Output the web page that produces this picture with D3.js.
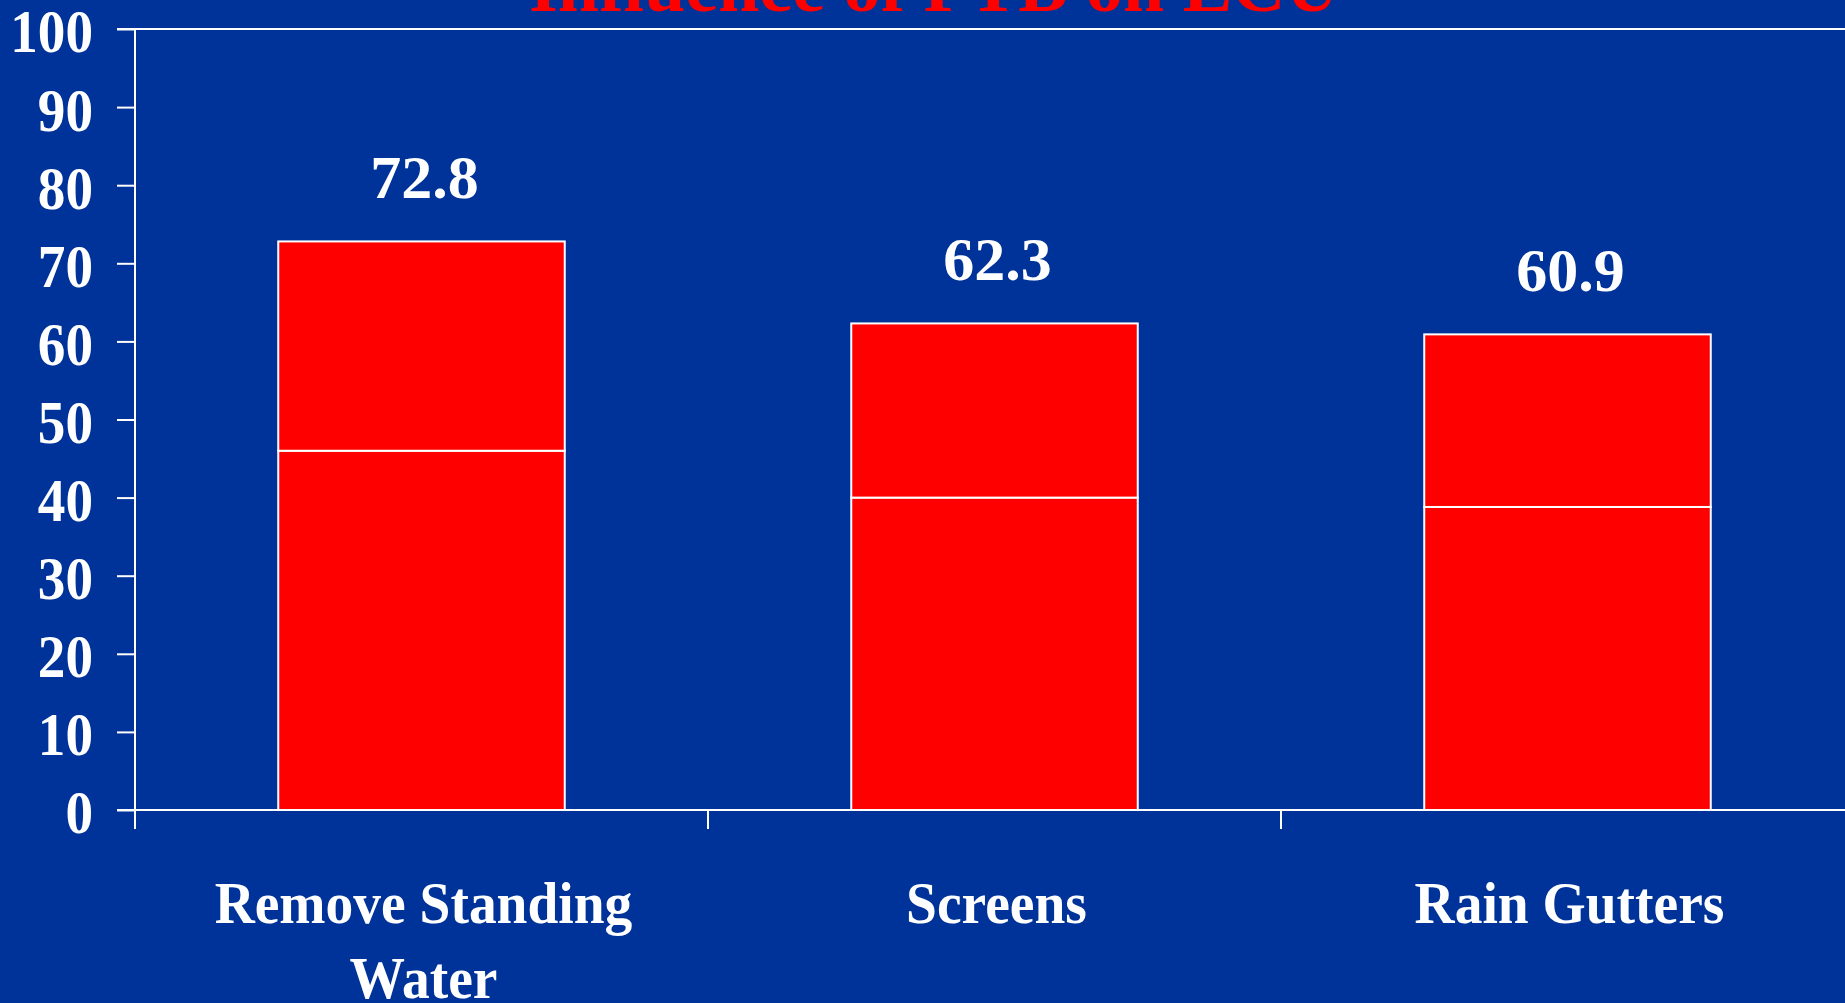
<!DOCTYPE html>
<html>
<head>
<meta charset="utf-8">
<script src="https://cdn.jsdelivr.net/npm/d3@7"></script>
<style>
  html, body { margin: 0; padding: 0; background: #003399; overflow: hidden; }
  svg { display: block; }
  text { font-family: "Liberation Serif", "Times New Roman", serif; font-weight: bold; }
</style>
</head>
<body>
<svg id="chart" width="1845" height="1003"></svg>
<script>
const title = "Influence of PTB on LCU";
const categories = ["Remove Standing Water", "Screens", "Rain Gutters"];
const lowerValues = [46.0, 40.0, 38.8];
const upperValues = [26.8, 22.3, 22.1];
const totalLabels = ["72.8", "62.3", "60.9"];
const yTicks = [0, 10, 20, 30, 40, 50, 60, 70, 80, 90, 100];

const W = 1845, H = 1003;
const bg = "#003399", red = "#FF0000", white = "#FFFFFF";

const svg = d3.select("#chart");
svg.append("rect").attr("width", W).attr("height", H).attr("fill", bg);

const rows = categories.map((c, i) => ({ cat: c, lower: lowerValues[i], upper: upperValues[i], label: totalLabels[i] }));
const stack = d3.stack().keys(["lower", "upper"])(rows);

const y = d3.scaleLinear().domain([0, 100]).range([810, 29]);
const x = d3.scaleBand().domain(categories).range([135, 135 + 3 * 573]).paddingInner(0.5).paddingOuter(0.25);
const x0 = x.range()[0];

// Title (partially cut at the top, as in the original)
svg.append("text")
  .attr("x", 934).attr("y", 11)
  .attr("text-anchor", "middle")
  .attr("fill", red)
  .attr("font-size", 74)
  .text(title);

// Bars
svg.append("g").selectAll("g").data(stack).join("g")
  .selectAll("rect").data(d => d).join("rect")
  .attr("x", d => x(d.data.cat))
  .attr("width", x.bandwidth())
  .attr("y", d => y(d[1]))
  .attr("height", d => y(d[0]) - y(d[1]))
  .attr("fill", red)
  .attr("stroke", white)
  .attr("stroke-width", 2);

// Y axis
const yAxis = d3.axisLeft(y).tickValues(yTicks).tickSize(18).tickPadding(25).tickFormat(d3.format("d"));
const gy = svg.append("g").attr("transform", `translate(${x0},0)`).call(yAxis);
gy.select(".domain").remove();
gy.selectAll(".tick line").attr("stroke", white).attr("stroke-width", 2);
gy.selectAll(".tick text")
  .attr("fill", white).attr("font-size", 62)
  .attr("font-family", "Liberation Serif, Times New Roman, serif").attr("font-weight", "bold")
  .attr("x", 0).attr("dy", "0.37em")
  .attr("transform", "translate(-42,0) scale(0.89,1)");

// Left axis line
svg.append("line").attr("x1", x0).attr("x2", x0)
  .attr("y1", y(100)).attr("y2", y(0) + 19)
  .attr("stroke", white).attr("stroke-width", 2);
// Top and bottom frame lines
[100, 0].forEach(v => {
  svg.append("line").attr("x1", x0 - 18).attr("x2", W)
    .attr("y1", y(v)).attr("y2", y(v))
    .attr("stroke", white).attr("stroke-width", 2);
});

// Category ticks at band boundaries
const bounds = categories.map((c, i) => x0 + i * x.step());
svg.append("g").selectAll("line").data(bounds).join("line")
  .attr("x1", d => d).attr("x2", d => d)
  .attr("y1", y(0)).attr("y2", y(0) + 19)
  .attr("stroke", white).attr("stroke-width", 2);

// Category labels with wrapping
const measure = svg.append("text").attr("font-size", 60).attr("visibility", "hidden");
function wrapLines(str, maxW) {
  const words = str.split(" ");
  const lines = [];
  let line = [];
  words.forEach(w => {
    const test = line.concat([w]).join(" ");
    measure.text(test);
    if (measure.node().getComputedTextLength() * 0.925 > maxW && line.length) {
      lines.push(line.join(" "));
      line = [w];
    } else line.push(w);
  });
  if (line.length) lines.push(line.join(" "));
  return lines;
}
const catG = svg.append("g");
categories.forEach(c => {
  const lines = wrapLines(c, x.step() * 0.95);
  const cx = x(c) + x.bandwidth() / 2 + 2;
  const t = catG.append("text")
    .attr("text-anchor", "middle")
    .attr("fill", white)
    .attr("font-size", 60)
    .attr("transform", `translate(${cx},${y(0) + 113}) scale(0.925,1)`);
  lines.forEach((l, i) => {
    t.append("tspan").attr("x", 0).attr("dy", i === 0 ? 0 : 75).text(l);
  });
});
measure.remove();

// Value labels
svg.append("g").selectAll("text").data(rows).join("text")
  .attr("x", d => x(d.cat) + x.bandwidth() / 2 + 3)
  .attr("y", d => y(d.lower + d.upper) - 43)
  .attr("text-anchor", "middle")
  .attr("fill", white)
  .attr("font-size", 62)
  .text(d => d.label);
</script>
</body>
</html>
